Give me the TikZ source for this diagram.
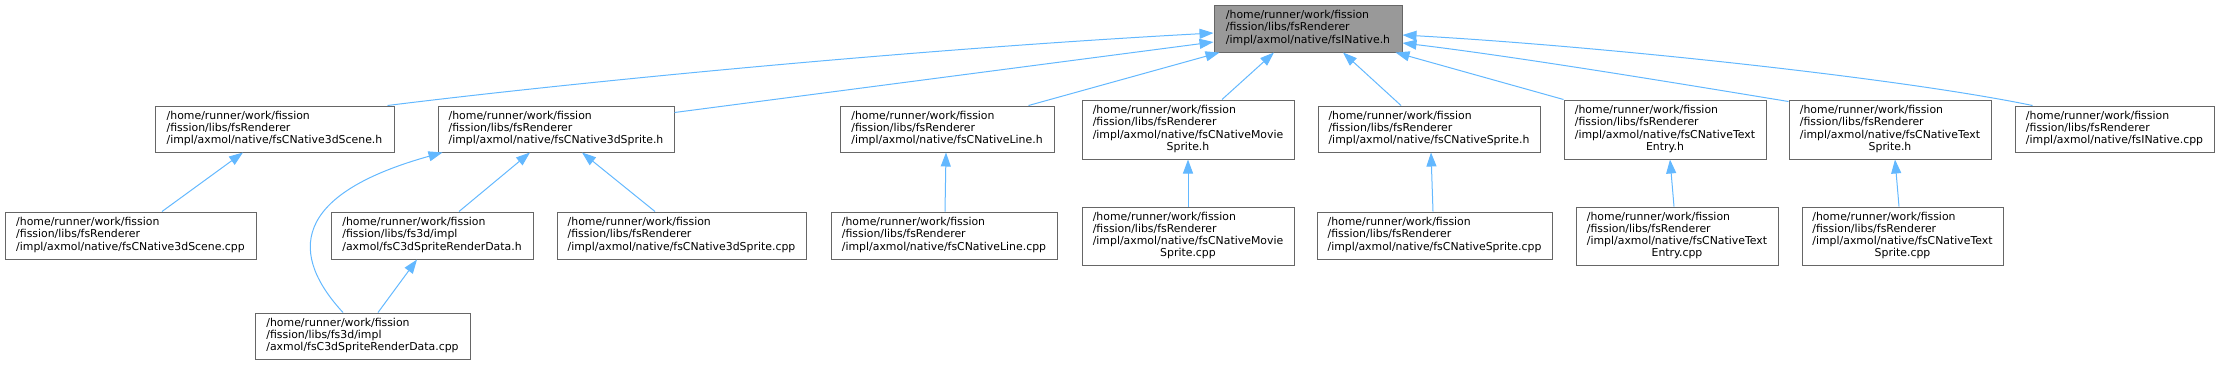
\documentclass[tikz,border=0pt]{standalone}
\usepackage{fontspec}
\setmainfont{DejaVu Sans}
\usetikzlibrary{arrows.meta}
\definecolor{edgeblue}{HTML}{63B8FF}
\definecolor{boxgrey}{HTML}{666666}
\definecolor{rootfill}{HTML}{999999}
\newcommand{\lbl}[1]{\begin{tabular}{@{}l@{}}#1\end{tabular}}
\newcommand{\lastc}[1]{\multicolumn{1}{@{}c@{}}{#1}}
\begin{document}
\begin{tikzpicture}[x=1pt,y=-1pt,
  fbox/.style={draw=boxgrey, line width=1pt, fill=white, inner sep=0pt,
    font=\fontsize{10.9}{12.2}\selectfont, text=black},
  rootbox/.style={fbox, fill=rootfill},
  edge/.style={draw=edgeblue, line width=1pt, -{Triangle[length=14pt,width=10pt,fill=edgeblue]}}]
\useasboundingbox (0,0) rectangle (2219,365);
% row 1
\node[rootbox, minimum width=188pt, minimum height=47pt] (n1) at (1308,28.5)
  {\lbl{/home/runner/work/fission\\/fission/libs/fsRenderer\\/impl/axmol/native/fsINative.h}};
% row 2
\node[fbox, minimum width=239pt, minimum height=46pt] (n2) at (274.5,129)
  {\lbl{/home/runner/work/fission\\/fission/libs/fsRenderer\\/impl/axmol/native/fsCNative3dScene.h}};
\node[fbox, minimum width=236pt, minimum height=46pt] (n3) at (556,129)
  {\lbl{/home/runner/work/fission\\/fission/libs/fsRenderer\\/impl/axmol/native/fsCNative3dSprite.h}};
\node[fbox, minimum width=214pt, minimum height=46pt] (n4) at (947,129)
  {\lbl{/home/runner/work/fission\\/fission/libs/fsRenderer\\/impl/axmol/native/fsCNativeLine.h}};
\node[fbox, minimum width=212pt, minimum height=59pt] (n5) at (1188,129.5)
  {\lbl{/home/runner/work/fission\\/fission/libs/fsRenderer\\/impl/axmol/native/fsCNativeMovie\\\lastc{Sprite.h}}};
\node[fbox, minimum width=222pt, minimum height=46pt] (n6) at (1429,129)
  {\lbl{/home/runner/work/fission\\/fission/libs/fsRenderer\\/impl/axmol/native/fsCNativeSprite.h}};
\node[fbox, minimum width=202pt, minimum height=59pt] (n7) at (1665,129.5)
  {\lbl{/home/runner/work/fission\\/fission/libs/fsRenderer\\/impl/axmol/native/fsCNativeText\\\lastc{Entry.h}}};
\node[fbox, minimum width=202pt, minimum height=59pt] (n8) at (1890,129.5)
  {\lbl{/home/runner/work/fission\\/fission/libs/fsRenderer\\/impl/axmol/native/fsCNativeText\\\lastc{Sprite.h}}};
\node[fbox, minimum width=199pt, minimum height=46pt] (n9) at (2114.5,129)
  {\lbl{/home/runner/work/fission\\/fission/libs/fsRenderer\\/impl/axmol/native/fsINative.cpp}};
% row 3
\node[fbox, minimum width=251pt, minimum height=47pt] (n10) at (130.5,235.5)
  {\lbl{/home/runner/work/fission\\/fission/libs/fsRenderer\\/impl/axmol/native/fsCNative3dScene.cpp}};
\node[fbox, minimum width=202pt, minimum height=47pt] (n11) at (432,235.5)
  {\lbl{/home/runner/work/fission\\/fission/libs/fs3d/impl\\/axmol/fsC3dSpriteRenderData.h}};
\node[fbox, minimum width=249pt, minimum height=47pt] (n12) at (681.5,235.5)
  {\lbl{/home/runner/work/fission\\/fission/libs/fsRenderer\\/impl/axmol/native/fsCNative3dSprite.cpp}};
\node[fbox, minimum width=226pt, minimum height=47pt] (n13) at (944,235.5)
  {\lbl{/home/runner/work/fission\\/fission/libs/fsRenderer\\/impl/axmol/native/fsCNativeLine.cpp}};
\node[fbox, minimum width=212pt, minimum height=58pt] (n14) at (1188,236)
  {\lbl{/home/runner/work/fission\\/fission/libs/fsRenderer\\/impl/axmol/native/fsCNativeMovie\\\lastc{Sprite.cpp}}};
\node[fbox, minimum width=235pt, minimum height=47pt] (n15) at (1434.5,235.5)
  {\lbl{/home/runner/work/fission\\/fission/libs/fsRenderer\\/impl/axmol/native/fsCNativeSprite.cpp}};
\node[fbox, minimum width=202pt, minimum height=58pt] (n16) at (1677,236)
  {\lbl{/home/runner/work/fission\\/fission/libs/fsRenderer\\/impl/axmol/native/fsCNativeText\\\lastc{Entry.cpp}}};
\node[fbox, minimum width=201pt, minimum height=58pt] (n17) at (1902.5,236)
  {\lbl{/home/runner/work/fission\\/fission/libs/fsRenderer\\/impl/axmol/native/fsCNativeText\\\lastc{Sprite.cpp}}};
% row 4
\node[fbox, minimum width=215pt, minimum height=46pt] (n18) at (362.5,336)
  {\lbl{/home/runner/work/fission\\/fission/libs/fs3d/impl\\/axmol/fsC3dSpriteRenderData.cpp}};
% edges to root
\draw[edge] ([xshift=-7pt]n2.north east) .. controls (560,84) and (900,50) .. ([yshift=-4.5pt]n1.west);
\draw[edge] ([yshift=16.5pt]n3.east) -- ([yshift=-13.5pt]n1.west);
\draw[edge] ([xshift=-26pt]n4.north east) -- ([xshift=6pt]n1.south west);
\draw[edge] ([xshift=34pt]n5.north) -- ([xshift=-34pt]n1.south);
\draw[edge] ([xshift=-28pt]n6.north) -- ([xshift=35pt]n1.south);
\draw[edge] (n7.north west) -- ([xshift=-7pt]n1.south east);
\draw[edge] ([yshift=-2pt]n8.north west) .. controls (1700,87) and (1520,57) .. ([yshift=-14.5pt]n1.east);
\draw[edge] ([xshift=18pt]n9.north west) .. controls (1900,78) and (1600,46) .. ([yshift=-6.5pt]n1.east);
% lower edges
\draw[edge] ([xshift=31.5pt]n10.north) -- ([xshift=-31.5pt]n2.south);
\draw[edge] ([xshift=27pt]n11.north) -- ([xshift=-26pt]n3.south);
\draw[edge] ([xshift=-26.5pt]n12.north) -- ([xshift=26pt]n3.south);
\draw[edge] ([xshift=15.5pt]n18.north) -- ([xshift=-15pt]n11.south);
\draw[edge] ([xshift=-19.5pt]n18.north) .. controls (290,255) and (290,195) .. ([xshift=5pt]n3.south west);
\draw[edge] ([xshift=1pt]n13.north) -- ([xshift=-1pt]n4.south);
\draw[edge] (n14.north) -- (n5.south);
\draw[edge] ([xshift=-1.5pt]n15.north) -- ([xshift=2pt]n6.south);
\draw[edge] ([xshift=-3pt]n16.north) -- ([xshift=5pt]n7.south);
\draw[edge] ([xshift=-3.5pt]n17.north) -- ([xshift=5pt]n8.south);
\end{tikzpicture}
\end{document}
